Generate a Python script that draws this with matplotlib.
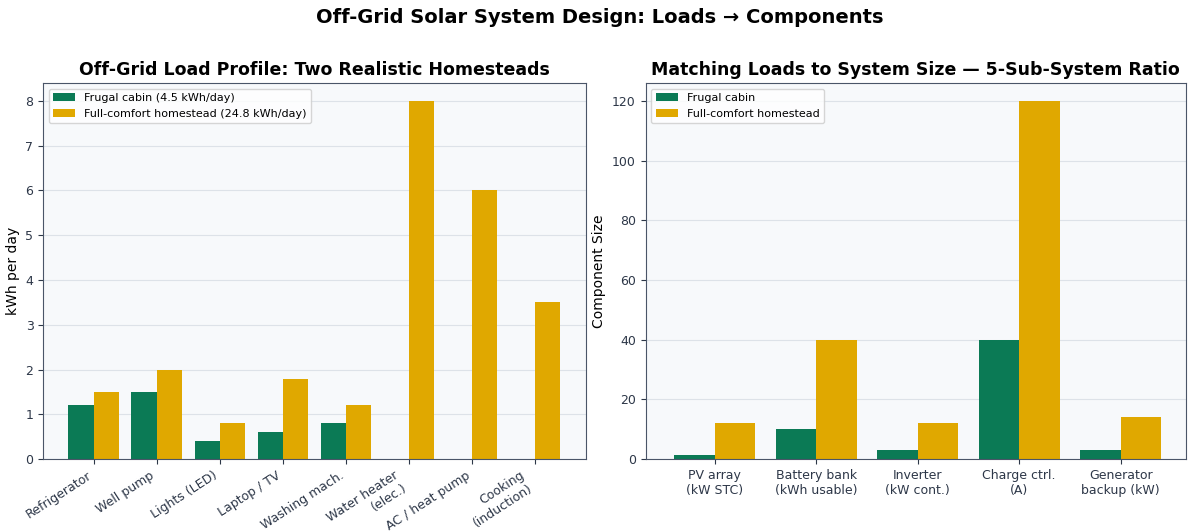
import matplotlib.pyplot as plt
import numpy as np

# Left panel: daily loads
loads = ['Refrigerator', 'Well pump', 'Lights (LED)', 'Laptop / TV', 'Washing mach.',
         'Water heater\n(elec.)', 'AC / heat pump', 'Cooking\n(induction)']
frugal_kwh = [1.2, 1.5, 0.4, 0.6, 0.8, 0, 0, 0]
comfort_kwh = [1.5, 2.0, 0.8, 1.8, 1.2, 8.0, 6.0, 3.5]

# Right panel: component sizes
components = ['PV array\n(kW STC)', 'Battery bank\n(kWh usable)', 'Inverter\n(kW cont.)',
              'Charge ctrl.\n(A)', 'Generator\nbackup (kW)']
frugal_size = [1.5, 10, 3, 40, 3]
comfort_size = [12, 40, 12, 120, 14]

green = '#0b7a55'
gold = '#e0a800'
txt = '#2d3748'

fig = plt.figure(figsize=(12, 5.32), dpi=100)
ax1 = fig.add_axes([0.036, 0.137, 0.452, 0.707])
ax2 = fig.add_axes([0.538, 0.137, 0.450, 0.707])
fig.suptitle('Off-Grid Solar System Design: Loads \u2192 Components', fontsize=14,
             fontweight='bold', y=0.985)

def style(ax):
    ax.set_facecolor('#f7f9fb')
    ax.grid(axis='y', color='#dde2e8', linewidth=0.8)
    ax.set_axisbelow(True)
    for s in ax.spines.values():
        s.set_color('#4a5568')
    ax.tick_params(colors=txt, labelsize=9)

w = 0.4
x = np.arange(len(loads))
ax1.bar(x - w/2, frugal_kwh, w, color=green, label='Frugal cabin (4.5 kWh/day)')
ax1.bar(x + w/2, comfort_kwh, w, color=gold, label='Full-comfort homestead (24.8 kWh/day)')
ax1.set_xticks(x)
ax1.set_xticklabels(loads, rotation=33, ha='right', fontsize=8)
ax1.set_ylim(0, 8.4)
ax1.set_xlim(-0.8, 7.8)
ax1.set_ylabel('kWh per day', fontsize=10, labelpad=4)
ax1.set_title('Off-Grid Load Profile: Two Realistic Homesteads', fontsize=12.5, fontweight='bold')
ax1.legend(loc='upper left', fontsize=8)
style(ax1)

x2 = np.arange(len(components))
ax2.bar(x2 - w/2, frugal_size, w, color=green, label='Frugal cabin')
ax2.bar(x2 + w/2, comfort_size, w, color=gold, label='Full-comfort homestead')
ax2.set_xticks(x2)
ax2.set_xticklabels(components, fontsize=8.5)
ax2.set_ylim(0, 126)
ax2.set_xlim(-0.68, 4.64)
ax2.set_ylabel('Component Size', fontsize=10)
ax2.set_title('Matching Loads to System Size \u2014 5-Sub-System Ratio', fontsize=12.5, fontweight='bold')
ax2.legend(loc='upper left', fontsize=8)
style(ax2)

fig.savefig('out.png')
